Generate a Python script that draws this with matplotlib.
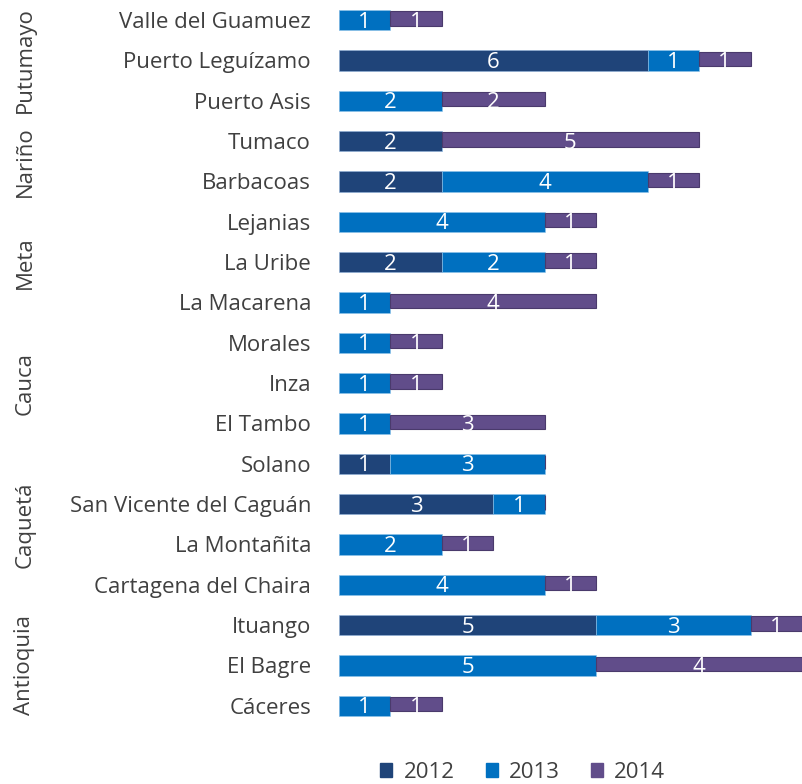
import matplotlib.pyplot as plt
import numpy as np

municipios = ['Valle del Guamuez', 'Puerto Leguízamo', 'Puerto Asis', 'Tumaco',
              'Barbacoas', 'Lejanias', 'La Uribe', 'La Macarena', 'Morales', 'Inza',
              'El Tambo', 'Solano', 'San Vicente del Caguán', 'La Montañita',
              'Cartagena del Chaira', 'Ituango', 'El Bagre', 'Cáceres']
v2012 = [0, 6, 0, 2, 2, 0, 2, 0, 0, 0, 0, 1, 3, 0, 0, 5, 0, 0]
v2013 = [1, 1, 2, 0, 4, 4, 2, 1, 1, 1, 1, 3, 1, 2, 4, 3, 5, 1]
v2014 = [1, 1, 2, 5, 1, 1, 1, 4, 1, 1, 3, 0, 0, 1, 1, 1, 4, 1]
# departamento, first row, last row
grupos = [('Putumayo', 0, 2), ('Nariño', 3, 4), ('Meta', 5, 7),
          ('Cauca', 8, 10), ('Caquetá', 11, 14), ('Antioquia', 15, 17)]

c2012 = '#1f4479'
c2013 = '#0070c0'
c2014 = '#614d8a'
gris = '#404040'
plt.rcParams['font.family'] = ['Open Sans', 'DejaVu Sans']
fs = 16

fig = plt.figure(figsize=(8.03, 7.84), dpi=100)
ax = fig.add_axes([0.422, 0.074, 0.578, 0.926])

y = np.arange(len(municipios))
a = np.array(v2012)
b = np.array(v2013)
c = np.array(v2014)

ax.barh(y, a, height=0.5, color=c2012, edgecolor='#8fb0d8', linewidth=0.4)
ax.barh(y, b, left=a, height=0.5, color=c2013, edgecolor='#8fc4ea', linewidth=0.4)
ax.barh(y - 0.04, c, left=a + b, height=0.36, color=c2014, edgecolor='#4a3a6c', linewidth=0.8)

for vals, lefts in [(a, np.zeros_like(a)), (b, a), (c, a + b)]:
    for i in range(len(y)):
        if vals[i] > 0:
            ax.text(lefts[i] + vals[i] / 2, y[i] + 0.05, str(vals[i]), color='white',
                    fontsize=fs, ha='center', va='center')

ax.set_xlim(0, 9.02)
ax.set_ylim(len(municipios) - 0.5, -0.5)
ax.set_yticks(y)
ax.set_yticklabels(municipios, fontsize=fs, color=gris)
ax.tick_params(axis='y', length=0, pad=20)
ax.set_xticks([])
for s in ax.spines.values():
    s.set_visible(False)

for nombre, r0, r1 in grupos:
    ax.text(-6.1, (r0 + r1) / 2, nombre, rotation=90, fontsize=fs, color=gris,
            ha='center', va='center')

h = [plt.Rectangle((0, 0), 1, 1, color=col) for col in (c2012, c2013, c2014)]
fig.legend(h, ['2012', '2013', '2014'], loc='center', bbox_to_anchor=(0.651, 0.015),
           ncol=3, frameon=False, fontsize=fs, handlelength=0.55, handleheight=0.55,
           columnspacing=1.4, handletextpad=0.5, labelcolor=gris)

fig.savefig('out.png', dpi=100)
